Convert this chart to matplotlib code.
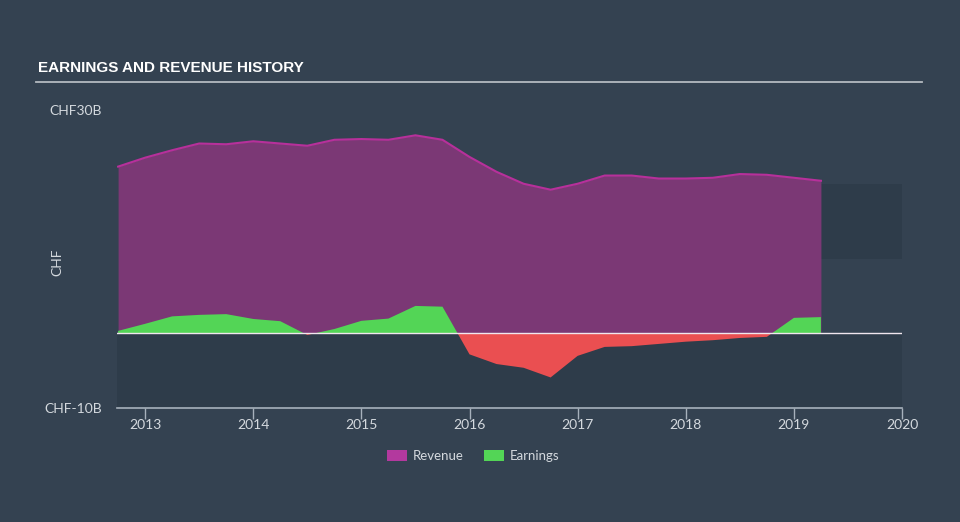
import numpy as np
import matplotlib.pyplot as plt
from matplotlib.patches import Patch

# quarterly points (CHF billions)
quarters = [2012.75, 2013.0, 2013.25, 2013.5, 2013.75, 2014.0, 2014.25, 2014.5, 2014.75,
            2015.0, 2015.25, 2015.5, 2015.75, 2016.0, 2016.25, 2016.5, 2016.75,
            2017.0, 2017.25, 2017.5, 2017.75, 2018.0, 2018.25, 2018.5, 2018.75,
            2019.0, 2019.25]
revenue = [22.4, 23.6, 24.6, 25.5, 25.4, 25.8, 25.5, 25.2, 26.0,
           26.1, 26.0, 26.6, 26.0, 23.7, 21.7, 20.1, 19.3,
           20.1, 21.2, 21.2, 20.8, 20.8, 20.9, 21.4, 21.3,
           20.9, 20.5]
earnings = [0.35, 1.3, 2.3, 2.5, 2.6, 1.95, 1.65, -0.2, 0.6,
            1.7, 2.0, 3.7, 3.6, -2.8, -4.1, -4.6, -5.9,
            -3.0, -1.8, -1.7, -1.4, -1.1, -0.9, -0.6, -0.45,
            2.1, 2.2]
years = [2013, 2014, 2015, 2016, 2017, 2018, 2019, 2020]
y_ticks = [30, -10]
y_labels = ["CHF30B", "CHF-10B"]

BG = "#344251"
DARK = "#2e3c4a"
TXT = "#d4d9de"

plt.rcParams["font.family"] = ["Lato", "DejaVu Sans"]

x = np.array(quarters)
rev = np.array(revenue)
earn = np.array(earnings)

fig = plt.figure(figsize=(9.6, 5.22), dpi=100, facecolor=BG)
ax = fig.add_axes([0.1219, 0.2184, 0.8177, 0.5709])
ax.set_facecolor(BG)
ax.set_xlim(2012.74, 2020.0)
ax.set_ylim(-10, 30)

# darker bands
ax.axhspan(-10, 0, color=DARK, lw=0, zorder=0)
ax.fill_between([quarters[-1], 2020.0], 10, 20, color=DARK, lw=0, zorder=0)

# revenue area
ax.fill_between(x, 0, rev, color="#7b3875", lw=0, zorder=1)
ax.plot(x, rev, color="#b7309b", lw=1.5, zorder=2)

# earnings area, green above zero, red below
ax.fill_between(x, 0, earn, where=earn >= 0, interpolate=True, color="#53d556", lw=0, zorder=3)
ax.fill_between(x, 0, earn, where=earn <= 0, interpolate=True, color="#ea4f51", lw=0, zorder=3)

ax.axhline(0, color="#f0e6ee", lw=1, zorder=4)

for s in ["top", "right", "left"]:
    ax.spines[s].set_visible(False)
ax.spines["bottom"].set_color("#a7b1bc")
ax.spines["bottom"].set_linewidth(1.2)

ax.set_xticks(years)
ax.set_xticklabels([str(y) for y in years])
ax.tick_params(axis="x", colors="#a7b1bc", length=8, width=1, labelcolor=TXT,
               labelsize=10, pad=0)
ax.set_yticks(y_ticks)
ax.set_yticklabels(y_labels)
ax.tick_params(axis="y", length=0, labelcolor=TXT, labelsize=10, pad=11)
ax.set_ylabel("CHF", color=TXT, fontsize=10)
ax.yaxis.set_label_coords(-0.068, 0.49)

# title and rule
fig.text(0.040, 0.870, "EARNINGS AND REVENUE HISTORY", color="white", fontsize=11,
         fontweight="bold", family=["Liberation Sans", "DejaVu Sans"],
         va="center", ha="left")
fig.add_artist(plt.Line2D([0.038, 0.960], [0.843, 0.843], color="#b4bac0", lw=1.3))

handles = [Patch(facecolor="#b3399e", label="Revenue"),
           Patch(facecolor="#53d556", label="Earnings")]
fig.legend(handles=handles, loc="center", bbox_to_anchor=(0.493, 0.126), ncol=2,
           frameon=False, fontsize=9.5, labelcolor=TXT, handlelength=1.5,
           handleheight=0.9, columnspacing=1.5, handletextpad=0.5)

fig.savefig("out.png", dpi=100, facecolor=BG)
